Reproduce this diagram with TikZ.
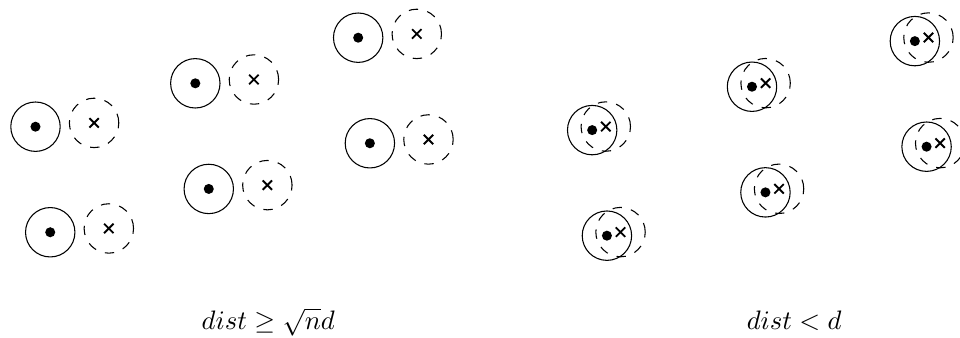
\documentclass[tikz,border=0pt]{standalone}
\usepackage{amsmath}
\usepackage{amssymb}
\usetikzlibrary{positioning}

\begin{document}
\begin{tikzpicture}[
    site/.style={circle, draw, minimum size=0.65cm, inner sep=0pt,
                 path picture={\fill (path picture bounding box.center) circle (0.066cm);}},
    ghost/.style={circle, draw, dash pattern=on 3.5pt off 3.5pt, minimum size=0.65cm, inner sep=0pt,
                  path picture={\draw[solid, line width=0.7pt]
                      ([shift={(-0.062,-0.062)}]path picture bounding box.center) -- ++(0.124,0.124)
                      ([shift={(-0.062,0.062)}]path picture bounding box.center) -- ++(0.124,-0.124);}},
    caption/.style={anchor=base}
]
    \useasboundingbox (0,0) rectangle (12.632,4.447);

    % Left picture: points with their copies far away
    \node[site] (a1) at (0.467, 2.780) {};
    \node[site] (a2) at (0.661, 1.391) {};
    \node[site] (a3) at (2.570, 3.351) {};
    \node[site] (a4) at (2.747, 1.961) {};
    \node[site] (a5) at (4.713, 3.951) {};
    \node[site] (a6) at (4.867, 2.562) {};

    \node[ghost] (b1) at ([shift={(0.771,0.05)}]a1) {};
    \node[ghost] (b2) at ([shift={(0.771,0.05)}]a2) {};
    \node[ghost] (b3) at ([shift={(0.771,0.05)}]a3) {};
    \node[ghost] (b4) at ([shift={(0.771,0.05)}]a4) {};
    \node[ghost] (b5) at ([shift={(0.771,0.05)}]a5) {};
    \node[ghost] (b6) at ([shift={(0.771,0.05)}]a6) {};

    % Right picture: points with their copies close by
    \node[site] (c1) at (7.792, 2.735) {};
    \node[site] (c2) at (7.986, 1.346) {};
    \node[site] (c3) at (9.895, 3.306) {};
    \node[site] (c4) at (10.072, 1.916) {};
    \node[site] (c5) at (12.038, 3.906) {};
    \node[site] (c6) at (12.192, 2.517) {};

    \node[ghost] (d1) at ([shift={(0.179,0.047)}]c1) {};
    \node[ghost] (d2) at ([shift={(0.179,0.047)}]c2) {};
    \node[ghost] (d3) at ([shift={(0.179,0.047)}]c3) {};
    \node[ghost] (d4) at ([shift={(0.179,0.047)}]c4) {};
    \node[ghost] (d5) at ([shift={(0.179,0.047)}]c5) {};
    \node[ghost] (d6) at ([shift={(0.179,0.047)}]c6) {};

    % Captions
    \node[caption] (far) at (3.53, 0.11) {$dist \geq \sqrt{n}d$};
    \node[caption] (near) at (10.45, 0.11) {$dist < d$};
\end{tikzpicture}
\end{document}
